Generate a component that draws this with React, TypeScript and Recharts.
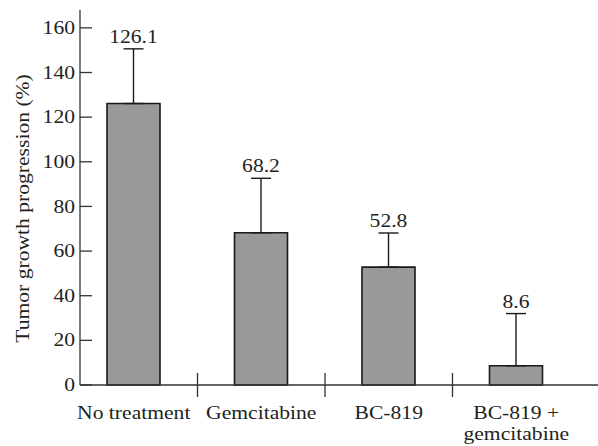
import React from 'react';
import { BarChart, Bar, XAxis, YAxis, ErrorBar, LabelList } from 'recharts';

const categories = ['No treatment', 'Gemcitabine', 'BC-819', 'BC-819 +\ngemcitabine'];
const means = [126.1, 68.2, 52.8, 8.6];
const errors = [24.5, 24.4, 15.3, 23.4];
const valueLabels = ['126.1', '68.2', '52.8', '8.6'];
const yTicks = [0, 20, 40, 60, 80, 100, 120, 140, 160];
const yLabel = 'Tumor growth progression (%)';

const data = categories.map((name, i) => ({ name, value: means[i], err: [0, errors[i]] }));

const FONT = '"Liberation Serif", "Times New Roman", serif';
const FS = 18;
const SX = 1.2;
const TEXT = '#231f20';
const AXIS = '#333';
const W = 598;
const H = 446;
const BAND = (W - 70 - 18) / categories.length;
const YLABEL_X = 23;
const YLABEL_CY = 208.5;

const XTick = (props: any) => {
  const { x, y, payload, index } = props;
  const lines = String(payload.value).split('\n');
  return (
    <g>
      {index > 0 && (
        <line x1={x - BAND / 2} x2={x - BAND / 2} y1={y - 12} y2={y + 12} stroke={AXIS} strokeWidth={1.3} />
      )}
      <g transform={`translate(${x}, ${y + 34}) scale(${SX}, 1)`}>
        <text x={0} y={0} textAnchor="middle" fontFamily={FONT} fontSize={FS} fill={TEXT}>
          {lines.map((l, i) => (
            <tspan key={i} x={0} dy={i === 0 ? 0 : 21.5}>{l}</tspan>
          ))}
        </text>
      </g>
    </g>
  );
};

const YTick = (props: any) => {
  const { x, y, payload } = props;
  return (
    <g>
      <line x1={x + 5} x2={x + 17} y1={y} y2={y} stroke={AXIS} strokeWidth={1.3} />
      <g transform={`translate(${x}, ${y}) scale(${SX}, 1)`}>
        <text x={0} y={0} dy="0.34em" textAnchor="end" fontFamily={FONT} fontSize={FS} fill={TEXT}>
          {payload.value}
        </text>
      </g>
    </g>
  );
};

const ValueLabel = (props: any) => {
  const { x, y, width, height, index } = props;
  const v = means[index];
  const pxPerUnit = height / v;
  const capY = y + height - (v + errors[index]) * pxPerUnit;
  return (
    <g transform={`translate(${x + width / 2}, ${capY - 6}) scale(${SX}, 1)`}>
      <text x={0} y={0} textAnchor="middle" fontFamily={FONT} fontSize={FS} fill={TEXT}>
        {valueLabels[index]}
      </text>
    </g>
  );
};

const YLabel = () => (
  <g transform={`translate(${YLABEL_X}, ${YLABEL_CY}) rotate(-90) scale(${SX}, 1)`}>
    <text x={0} y={0} textAnchor="middle" dominantBaseline="central" fontFamily={FONT} fontSize={FS} fill={TEXT}>
      {yLabel}
    </text>
  </g>
);

export default function App() {
  return (
    <div style={{ position: 'absolute', left: 0, top: 0, width: W, height: H, background: '#fff' }}>
      <BarChart width={W} height={H} data={data} margin={{ top: 10, right: 0, bottom: 0, left: 0 }}>
        <XAxis
          dataKey="name"
          axisLine={{ stroke: AXIS, strokeWidth: 1.3 }}
          tickLine={false}
          tickSize={0}
          tickMargin={0}
          interval={0}
          height={61}
          padding={{ left: -10, right: 18 }}
          tick={<XTick />}
        />
        <YAxis
          type="number"
          domain={[0, 168]}
          ticks={yTicks}
          interval={0}
          width={80}
          axisLine={{ stroke: AXIS, strokeWidth: 1.3 }}
          tickLine={false}
          tickSize={0}
          tickMargin={5}
          tick={<YTick />}
          label={<YLabel />}
        />
        <Bar dataKey="value" fill="#999999" stroke="#1a1a1a" strokeWidth={1.6} barSize={53} isAnimationActive={false}>
          <ErrorBar dataKey="err" direction="y" width={10} stroke="#1a1a1a" strokeWidth={1.4} isAnimationActive={false} />
          <LabelList dataKey="value" content={<ValueLabel />} />
        </Bar>
      </BarChart>
    </div>
  );
}
